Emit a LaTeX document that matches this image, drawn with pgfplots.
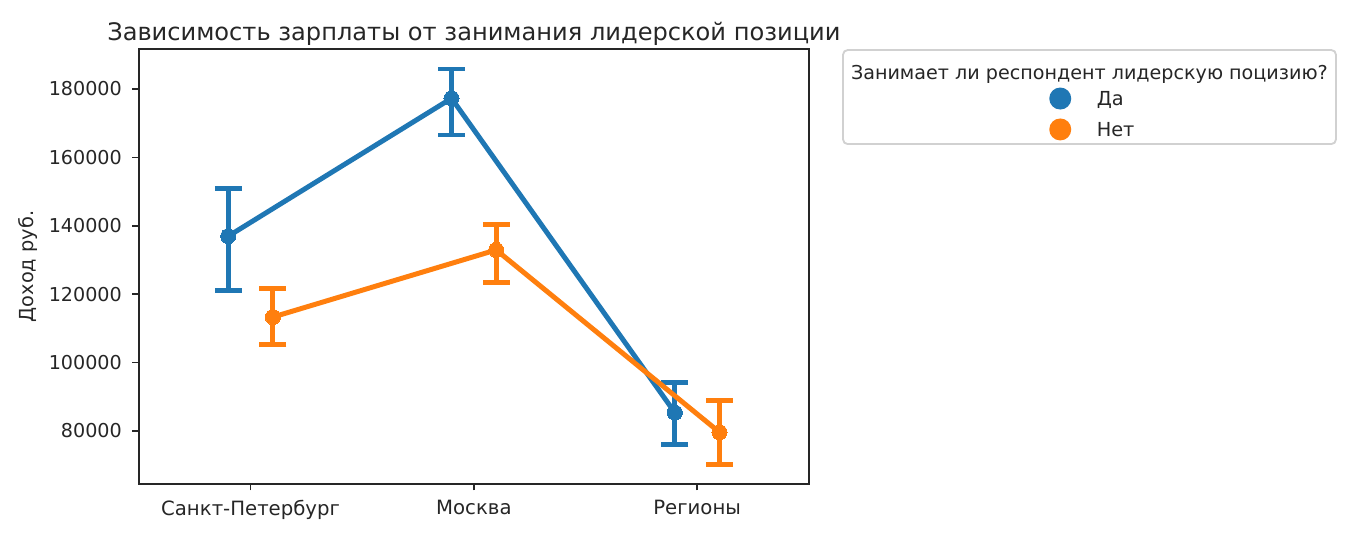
\documentclass[border=0pt]{standalone}
\usepackage{pgfplots}
\pgfplotsset{compat=1.18}
\usepackage{pgfplotstable}
\usepackage{fontspec}
\setmainfont{DejaVu Sans}
\definecolor{tabblue}{HTML}{1F77B4}
\definecolor{taborange}{HTML}{FF7F0E}
\definecolor{txt}{HTML}{262626}
\pgfplotstableread{
x y ep em
-0.1 136950 14050 15800
0.9 177280 8570 10730
1.9 85360 8790 9260
}\da
\pgfplotstableread{
x y ep em
0.1 113300 8300 7900
1.1 132930 7310 9450
2.1 79600 9300 9350
}\net
\begin{document}
\begin{tikzpicture}
\path[use as bounding box] (0,0) rectangle (745.7pt,300pt);
\draw[line width=1pt, draw=black!18, fill=white, rounded corners=2.5pt] (458.2pt,221.7pt) rectangle (726.1pt,272.8pt);
\node[font=\fontsize{10.4}{12}\selectfont, text=txt, inner sep=0pt] at (592.1pt,259.8pt) {Занимает ли респондент лидерскую поцизию?};
\begin{axis}[
  at={(75.5pt,36.96pt)}, anchor=south west,
  width=364.1pt, height=236.4pt, scale only axis,
  xmin=-0.5, xmax=2.5, ymin=64480, ymax=191700,
  xtick={0,1,2}, xticklabels={Санкт-Петербург,Москва,Регионы},
  ytick={80000,100000,...,180000},
  /pgf/number format/assume math mode=true,
  /pgf/number format/1000 sep={},
  /pgf/number format/fixed,
  scaled y ticks=false,
  ticklabel style={font=\fontsize{10.4}{12}\selectfont, text=txt},
  xticklabel style={inner sep=0pt, anchor=north, yshift=-5.3pt, font=\fontsize{10.7}{12}\selectfont},
  yticklabel style={inner sep=0pt, anchor=east, xshift=-5.6pt},
  axis line style={line width=0.8pt, draw=txt},
  tick style={line width=0.8pt, draw=txt},
  major tick length=3.5pt,
  tick align=outside,
  xtick pos=left, ytick pos=left,
  title={Зависимость зарплаты от занимания лидерской позиции},
  title style={font=\fontsize{13.1}{15}\selectfont, text=txt, inner sep=0pt, anchor=base, at={(0.5,1)}, yshift=-1.2pt},
  ylabel={Доход руб.},
  every axis y label/.style={at={(axis description cs:-0.1656,0.5)}, rotate=90, anchor=center, font=\fontsize{10.5}{12}\selectfont, text=txt},
  legend style={at={(axis description cs:1.359,0.9113)}, anchor=north west, draw=none, fill=none, inner sep=0pt, outer sep=0pt,
    column sep=13.9pt, row sep=4.9pt, font=\fontsize{10.5}{12}\selectfont, text=txt,
    nodes={inner sep=0pt, text height=7.3pt, text depth=0pt}},
  legend cell align=left,
  clip=false,
]
\addplot[tabblue, line width=2.7pt, mark=*, mark size=4.1pt, mark options={solid, fill=tabblue, draw=tabblue, line width=0pt},
  legend image code/.code={\fill[tabblue] (0pt,0pt) circle (4.6pt);},
  error bars/.cd, y dir=both, y explicit,
  error bar style={line width=2.7pt, tabblue},
  error mark options={line width=2.7pt, mark size=7.3pt, rotate=90, tabblue}]
  table[x=x, y=y, y error plus=ep, y error minus=em] {\da};
\addlegendentry{Да}
\addplot[taborange, line width=2.7pt, mark=*, mark size=4.1pt, mark options={solid, fill=taborange, draw=taborange, line width=0pt},
  legend image code/.code={\fill[taborange] (0pt,0pt) circle (4.6pt);},
  error bars/.cd, y dir=both, y explicit,
  error bar style={line width=2.7pt, taborange},
  error mark options={line width=2.7pt, mark size=7.3pt, rotate=90, taborange}]
  table[x=x, y=y, y error plus=ep, y error minus=em] {\net};
\addlegendentry{Нет}
\end{axis}
\end{tikzpicture}
\end{document}
